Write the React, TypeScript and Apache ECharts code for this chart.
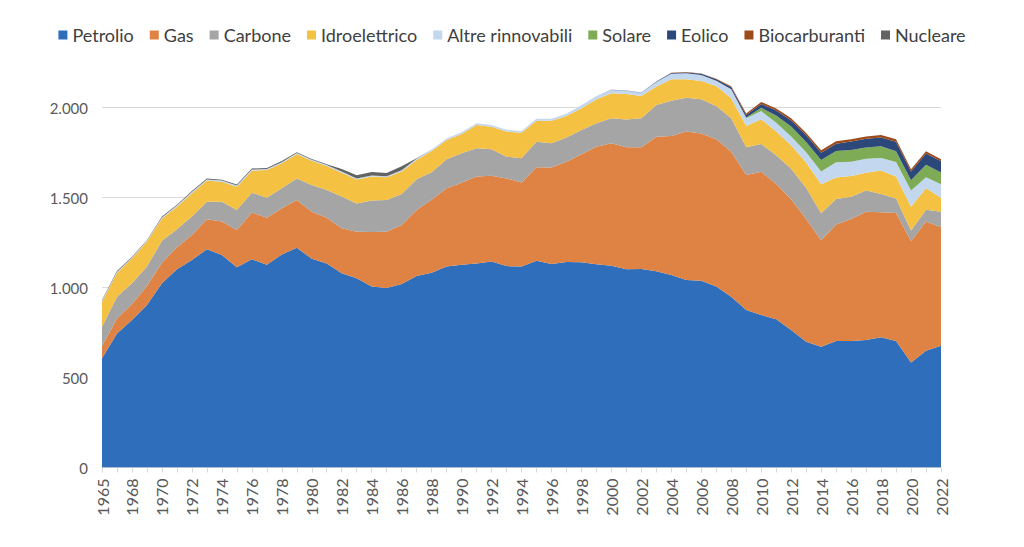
import React, { useEffect, useRef } from "react";
import * as echarts from "echarts";

const years: string[] = [
  "1965", "1967", "1968", "1969", "1970", "1971", "1972", "1973", "1974", "1975",
  "1976", "1977", "1978", "1979", "1980", "1981", "1982", "1983", "1984", "1985",
  "1986", "1987", "1988", "1989", "1990", "1991", "1992", "1993", "1994", "1995",
  "1996", "1997", "1998", "1999", "2000", "2001", "2002", "2003", "2004", "2005",
  "2006", "2007", "2008", "2009", "2010", "2011", "2012", "2013", "2014", "2015",
  "2016", "2017", "2018", "2019", "2020", "2021", "2022",
];

const petrolio: number[] = [
  607, 745, 819, 903, 1023, 1101, 1153, 1212, 1181, 1112,
  1157, 1127, 1184, 1221, 1160, 1134, 1079, 1051, 1005, 997,
  1019, 1064, 1082, 1116, 1127, 1134, 1145, 1119, 1116, 1149,
  1131, 1142, 1140, 1129, 1121, 1101, 1103, 1090, 1069, 1042,
  1038, 1005, 949, 875, 847, 823, 764, 699, 671, 703,
  703, 708, 723, 703, 584, 649, 677,
];

const gas: number[] = [
  68, 83, 89, 106, 115, 122, 139, 167, 185, 207,
  259, 261, 256, 265, 261, 254, 250, 259, 304, 313,
  328, 367, 406, 435, 455, 482, 476, 487, 468, 519,
  535, 557, 600, 653, 680, 678, 676, 748, 773, 824,
  818, 818, 805, 750, 796, 752, 726, 681, 591, 647,
  678, 713, 695, 711, 675, 718, 658,
];

const carbone: number[] = [
  107, 120, 115, 107, 122, 100, 102, 98, 111, 111,
  111, 111, 111, 120, 148, 154, 176, 157, 174, 176,
  172, 170, 152, 161, 164, 157, 147, 121, 134, 142,
  135, 135, 135, 130, 139, 155, 161, 176, 196, 188,
  190, 185, 186, 154, 154, 160, 170, 173, 150, 141,
  123, 118, 102, 81, 58, 65, 86,
];

const idroelettrico: number[] = [
  139, 133, 139, 139, 124, 126, 130, 117, 111, 130,
  122, 154, 139, 135, 135, 133, 133, 133, 133, 126,
  126, 107, 119, 107, 107, 130, 125, 139, 142, 117,
  126, 119, 121, 134, 139, 141, 124, 102, 119, 103,
  101, 111, 111, 118, 138, 132, 130, 142, 162, 120,
  115, 99, 130, 122, 132, 120, 77,
];

const altreRinnovabili: number[] = [
  5, 5, 5, 5, 5, 6, 6, 6, 6, 6,
  6, 6, 6, 6, 6, 6, 6, 6, 6, 6,
  6, 7, 8, 9, 9, 9, 10, 10, 10, 11,
  11, 12, 16, 18, 18, 18, 18, 25, 30, 33,
  34, 30, 50, 43, 45, 48, 49, 56, 70, 85,
  80, 77, 70, 80, 90, 60, 75,
];

const solare: number[] = [
  0, 0, 0, 0, 0, 0, 0, 0, 0, 0,
  0, 0, 0, 0, 0, 0, 0, 0, 0, 0,
  0, 0, 0, 0, 0, 0, 0, 0, 0, 0,
  0, 0, 0, 0, 0, 0, 0, 0, 0, 0,
  0, 0, 1, 4, 18, 40, 55, 58, 65, 63,
  65, 63, 65, 60, 57, 70, 66,
];

const eolico: number[] = [
  0, 0, 0, 0, 0, 0, 0, 0, 0, 0,
  0, 0, 0, 0, 0, 0, 0, 0, 0, 0,
  0, 0, 0, 0, 0, 0, 0, 0, 0, 0,
  0, 0, 0, 0, 1, 1, 2, 3, 4, 5,
  6, 8, 10, 14, 22, 28, 34, 37, 40, 40,
  47, 48, 49, 53, 48, 62, 62,
];

const biocarburanti: number[] = [
  0, 0, 0, 0, 0, 0, 0, 0, 0, 0,
  0, 0, 0, 0, 0, 0, 0, 0, 0, 0,
  0, 0, 0, 0, 0, 0, 0, 0, 0, 0,
  0, 0, 0, 0, 0, 0, 0, 1, 2, 2,
  2, 3, 6, 8, 11, 11, 12, 13, 14, 14,
  13, 13, 13, 13, 13, 13, 11,
];

const nucleare: number[] = [
  5, 5, 4, 3, 5, 5, 6, 5, 5, 6,
  6, 5, 7, 4, 4, 4, 15, 18, 20, 18,
  22, 3, 0, 0, 0, 0, 0, 0, 0, 0,
  0, 0, 0, 0, 0, 0, 0, 0, 0, 0,
  0, 0, 0, 0, 0, 0, 0, 0, 0, 0,
  0, 0, 0, 0, 0, 0, 0,
];

const seriesNames: string[] = [
  "Petrolio", "Gas", "Carbone", "Idroelettrico", "Altre rinnovabili",
  "Solare", "Eolico", "Biocarburanti", "Nucleare",
];
const seriesColors: string[] = [
  "#2F6EBA", "#DE8344", "#A5A5A5", "#F4C143", "#C3D8EE",
  "#7DAB56", "#2C4779", "#9C4A1A", "#636363",
];
const seriesData: number[][] = [
  petrolio, gas, carbone, idroelettrico, altreRinnovabili,
  solare, eolico, biocarburanti, nucleare,
];

const yTicks: number[] = [0, 500, 1000, 1500, 2000];

const fmt = (v: number): string =>
  String(v).replace(/\B(?=(\d{3})+(?!\d))/g, ".");

export default function App() {
  const ref = useRef<HTMLDivElement>(null);

  useEffect(() => {
    if (!ref.current) return;
    const chart = echarts.init(ref.current, undefined, { renderer: "svg" });
    const font = "Lato, 'Noto Sans', sans-serif";
    chart.setOption({
      animation: false,
      backgroundColor: "#ffffff",
      textStyle: { fontFamily: font },
      legend: {
        top: 21,
        left: "center",
        itemWidth: 9,
        itemHeight: 9,
        itemGap: 16,
        icon: "rect",
        textStyle: { fontFamily: font, fontSize: 18, color: "#404040" },
        data: seriesNames,
      },
      grid: { left: 102, right: 83, top: 53.5, bottom: 79.5, containLabel: false },
      xAxis: {
        type: "category",
        data: years,
        boundaryGap: false,
        axisLine: { lineStyle: { color: "#D9D9D9", width: 1 } },
        axisTick: { show: true, interval: 0, length: 5, lineStyle: { color: "#D9D9D9" } },
        axisLabel: {
          interval: 1,
          rotate: 90,
          fontSize: 16,
          color: "#595959",
          fontFamily: font,
          margin: 11,
        },
        splitLine: { show: false },
      },
      yAxis: {
        type: "value",
        min: yTicks[0],
        max: 2300,
        interval: 500,
        axisLine: { show: false },
        axisTick: { show: false },
        axisLabel: {
          fontSize: 15,
          color: "#595959",
          fontFamily: font,
          margin: 14,
          showMaxLabel: false,
          formatter: (v: number) => (yTicks.includes(v) ? fmt(v) : ""),
        },
        splitLine: {
          show: true,
          showMaxLine: false,
          lineStyle: { color: "#D9D9D9", width: 1 },
        },
      },
      series: seriesNames.map((name, i) => ({
        name,
        type: "line",
        stack: "total",
        data: seriesData[i],
        showSymbol: false,
        symbol: "none",
        lineStyle: { width: 0, color: seriesColors[i] },
        itemStyle: { color: seriesColors[i] },
        areaStyle: { color: seriesColors[i], opacity: 1 },
        emphasis: { disabled: true },
      })),
    });
    return () => {
      chart.dispose();
    };
  }, []);

  return (
    <div
      ref={ref}
      style={{ position: "fixed", left: 0, top: 0, width: 1024, height: 547 }}
    />
  );
}
